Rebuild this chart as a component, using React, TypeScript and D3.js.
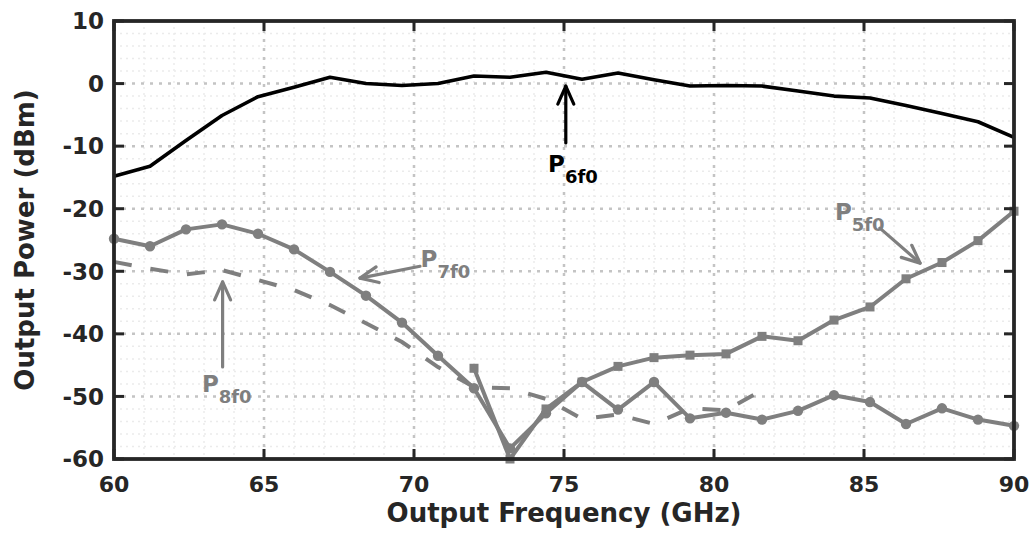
import React from "react";
import * as d3 from "d3";

const freq = [60, 61.2, 62.4, 63.6, 64.8, 66, 67.2, 68.4, 69.6, 70.8, 72, 73.2, 74.4, 75.6, 76.8, 78, 79.2, 80.4, 81.6, 82.8, 84, 85.2, 86.4, 87.6, 88.8, 90];
const p6f0 = [-14.8, -13.2, -9.1, -5.1, -2.1, -0.6, 1.0, 0.0, -0.3, 0.0, 1.2, 1.0, 1.8, 0.7, 1.7, 0.6, -0.4, -0.3, -0.4, -1.2, -2.0, -2.3, -3.5, -4.8, -6.1, -8.6];
const p7f0 = [-24.8, -26.0, -23.3, -22.5, -24.0, -26.5, -30.1, -33.9, -38.2, -43.5, -48.7, -58.3, -52.7, -47.7, -52.1, -47.7, -53.5, -52.6, -53.7, -52.3, -49.8, -50.9, -54.4, -51.9, -53.7, -54.7];
const p5f0: (number | null)[] = [null, null, null, null, null, null, null, null, null, null, -45.5, -60, -52.0, -47.7, -45.2, -43.8, -43.4, -43.2, -40.4, -41.1, -37.8, -35.7, -31.2, -28.6, -25.1, -20.4];
const p8f0: (number | null)[] = [-28.5, -29.6, -30.5, -29.8, -31.4, -33.0, -35.4, -38.3, -41.3, -45.3, -48.5, -48.7, -50.4, -53.6, -52.9, -54.4, -51.9, -52.2, -49.0, null, null, null, null, null, null, null];

const xTicks = [60, 65, 70, 75, 80, 85, 90];
const yTicks = [-60, -50, -40, -30, -20, -10, 0, 10];
const xMinor = d3.range(60, 91, 1);
const yMinor = d3.range(-60, 11, 2);

const xTitle = "Output Frequency (GHz)";
const yTitle = "Output Power (dBm)";

// annotations in data units: label position, arrow tail, arrow tip
const annotations = [
  { sub: "6f0", lx: 74.47, ly: -14.2, tail: [75.06, -9.5], tip: [75.06, -0.4], color: "#000000" },
  { sub: "7f0", lx: 70.22, ly: -29.3, tail: [70.2, -29.2], tip: [68.2, -31.1], color: "#7f7f7f" },
  { sub: "8f0", lx: 62.93, ly: -49.3, tail: [63.62, -45.3], tip: [63.62, -31.7], color: "#7f7f7f" },
  { sub: "5f0", lx: 84.03, ly: -21.8, tail: [85.53, -23.1], tip: [86.87, -28.7], color: "#7f7f7f" },
];

const W = 1035, H = 534;
const M = { left: 114, right: 1014, top: 21, bottom: 459 };
const FONT = "'DejaVu Sans', Verdana, sans-serif";
const GRAY = "#7f7f7f";
const AXIS = "#262626";

export default function App() {
  const x = d3.scaleLinear().domain([60, 90]).range([M.left, M.right]);
  const y = d3.scaleLinear().domain([-60, 10]).range([M.bottom, M.top]);

  const mk = (vals: (number | null)[]) =>
    d3.line<number>()
      .defined((_, i) => vals[i] !== null)
      .x((_, i) => x(freq[i]))
      .y((_, i) => y(vals[i] as number))(freq as any) || "";

  const tickLen = 10;

  const arrow = (a: any, k: number) => {
    const [x0, y0] = [x(a.tail[0]), y(a.tail[1])];
    const [x1, y1] = [x(a.tip[0]), y(a.tip[1])];
    const ang = Math.atan2(y1 - y0, x1 - x0);
    const hl = 18, hw = 8;
    const bx = x1 - hl * Math.cos(ang), by = y1 - hl * Math.sin(ang);
    const px = -Math.sin(ang) * hw, py = Math.cos(ang) * hw;
    return (
      <g key={k} stroke={a.color} strokeWidth={3.2} fill="none" strokeLinecap="round" strokeLinejoin="round">
        <line x1={x0} y1={y0} x2={x1} y2={y1} />
        <polyline points={`${bx + px},${by + py} ${x1},${y1} ${bx - px},${by - py}`} />
      </g>
    );
  };

  return (
    <svg width={W} height={H} style={{ position: "absolute", left: 0, top: 0, background: "#fff" }} fontFamily={FONT}>
      <rect x={0} y={0} width={W} height={H} fill="#fff" />
      {/* minor grid */}
      <g stroke="#ebebeb" strokeWidth={1.5} strokeDasharray="2 4">
        {xMinor.filter(v => v % 5 !== 0).map(v => (
          <line key={"xm" + v} x1={x(v)} x2={x(v)} y1={M.top} y2={M.bottom} />
        ))}
        {yMinor.filter(v => v % 10 !== 0).map(v => (
          <line key={"ym" + v} x1={M.left} x2={M.right} y1={y(v)} y2={y(v)} />
        ))}
      </g>
      {/* major grid */}
      <g stroke="#c4c4c4" strokeWidth={2.5} strokeDasharray="3 6">
        {xTicks.slice(1, -1).map(v => (
          <line key={"xg" + v} x1={x(v)} x2={x(v)} y1={M.top} y2={M.bottom} />
        ))}
        {yTicks.slice(1, -1).map(v => (
          <line key={"yg" + v} x1={M.left} x2={M.right} y1={y(v)} y2={y(v)} />
        ))}
      </g>

      {/* series */}
      <path d={mk(p8f0)} fill="none" stroke={GRAY} strokeWidth={4} strokeDasharray="18 19" />
      <path d={mk(p7f0)} fill="none" stroke={GRAY} strokeWidth={4} strokeLinejoin="round" />
      <path d={mk(p5f0)} fill="none" stroke={GRAY} strokeWidth={4} strokeLinejoin="round" />
      <path d={mk(p6f0)} fill="none" stroke="#000" strokeWidth={3.6} strokeLinejoin="round" />
      <g fill={GRAY}>
        {p7f0.map((v, i) => (
          <circle key={"c" + i} cx={x(freq[i])} cy={y(v)} r={5.2} />
        ))}
        {p5f0.map((v, i) =>
          v === null ? null : (
            <rect key={"s" + i} x={x(freq[i]) - 4.5} y={y(v) - 4.5} width={9} height={9} />
          )
        )}
      </g>

      {/* frame & ticks */}
      <g stroke={AXIS} strokeWidth={3}>
        {xTicks.map(v => (
          <g key={"xt" + v}>
            <line x1={x(v)} x2={x(v)} y1={M.bottom} y2={M.bottom - tickLen} />
            <line x1={x(v)} x2={x(v)} y1={M.top} y2={M.top + tickLen} />
          </g>
        ))}
        {yTicks.map(v => (
          <g key={"yt" + v}>
            <line x1={M.left} x2={M.left + tickLen} y1={y(v)} y2={y(v)} />
            <line x1={M.right} x2={M.right - tickLen} y1={y(v)} y2={y(v)} />
          </g>
        ))}
      </g>
      <rect x={M.left} y={M.top} width={M.right - M.left} height={M.bottom - M.top} fill="none" stroke={AXIS} strokeWidth={3.8} />

      {/* tick labels */}
      <g fontSize={22} fontWeight="bold" fill={AXIS}>
        {xTicks.map(v => (
          <text key={"xl" + v} x={x(v)} y={492} textAnchor="middle">{v}</text>
        ))}
      </g>
      <g fontSize={23} fontWeight="bold" fill={AXIS}>
        {yTicks.map(v => (
          <text key={"yl" + v} x={104} y={y(v)} dy="0.36em" textAnchor="end">{v}</text>
        ))}
      </g>
      <text x={(M.left + M.right) / 2} y={522} textAnchor="middle" fontSize={26} fontWeight="bold" fill={AXIS}>{xTitle}</text>
      <text transform={`translate(34, ${(M.top + M.bottom) / 2}) rotate(-90)`} textAnchor="middle" fontSize={26} fontWeight="bold" fill={AXIS}>{yTitle}</text>

      {/* annotations */}
      {annotations.map((a, k) => arrow(a, k))}
      {annotations.map((a, k) => (
        <text key={"al" + k} x={x(a.lx)} y={y(a.ly)} fill={a.color} fontWeight="bold">
          <tspan fontSize={23}>P</tspan>
          <tspan fontSize={18} dy={11}>{a.sub}</tspan>
        </text>
      ))}
    </svg>
  );
}
